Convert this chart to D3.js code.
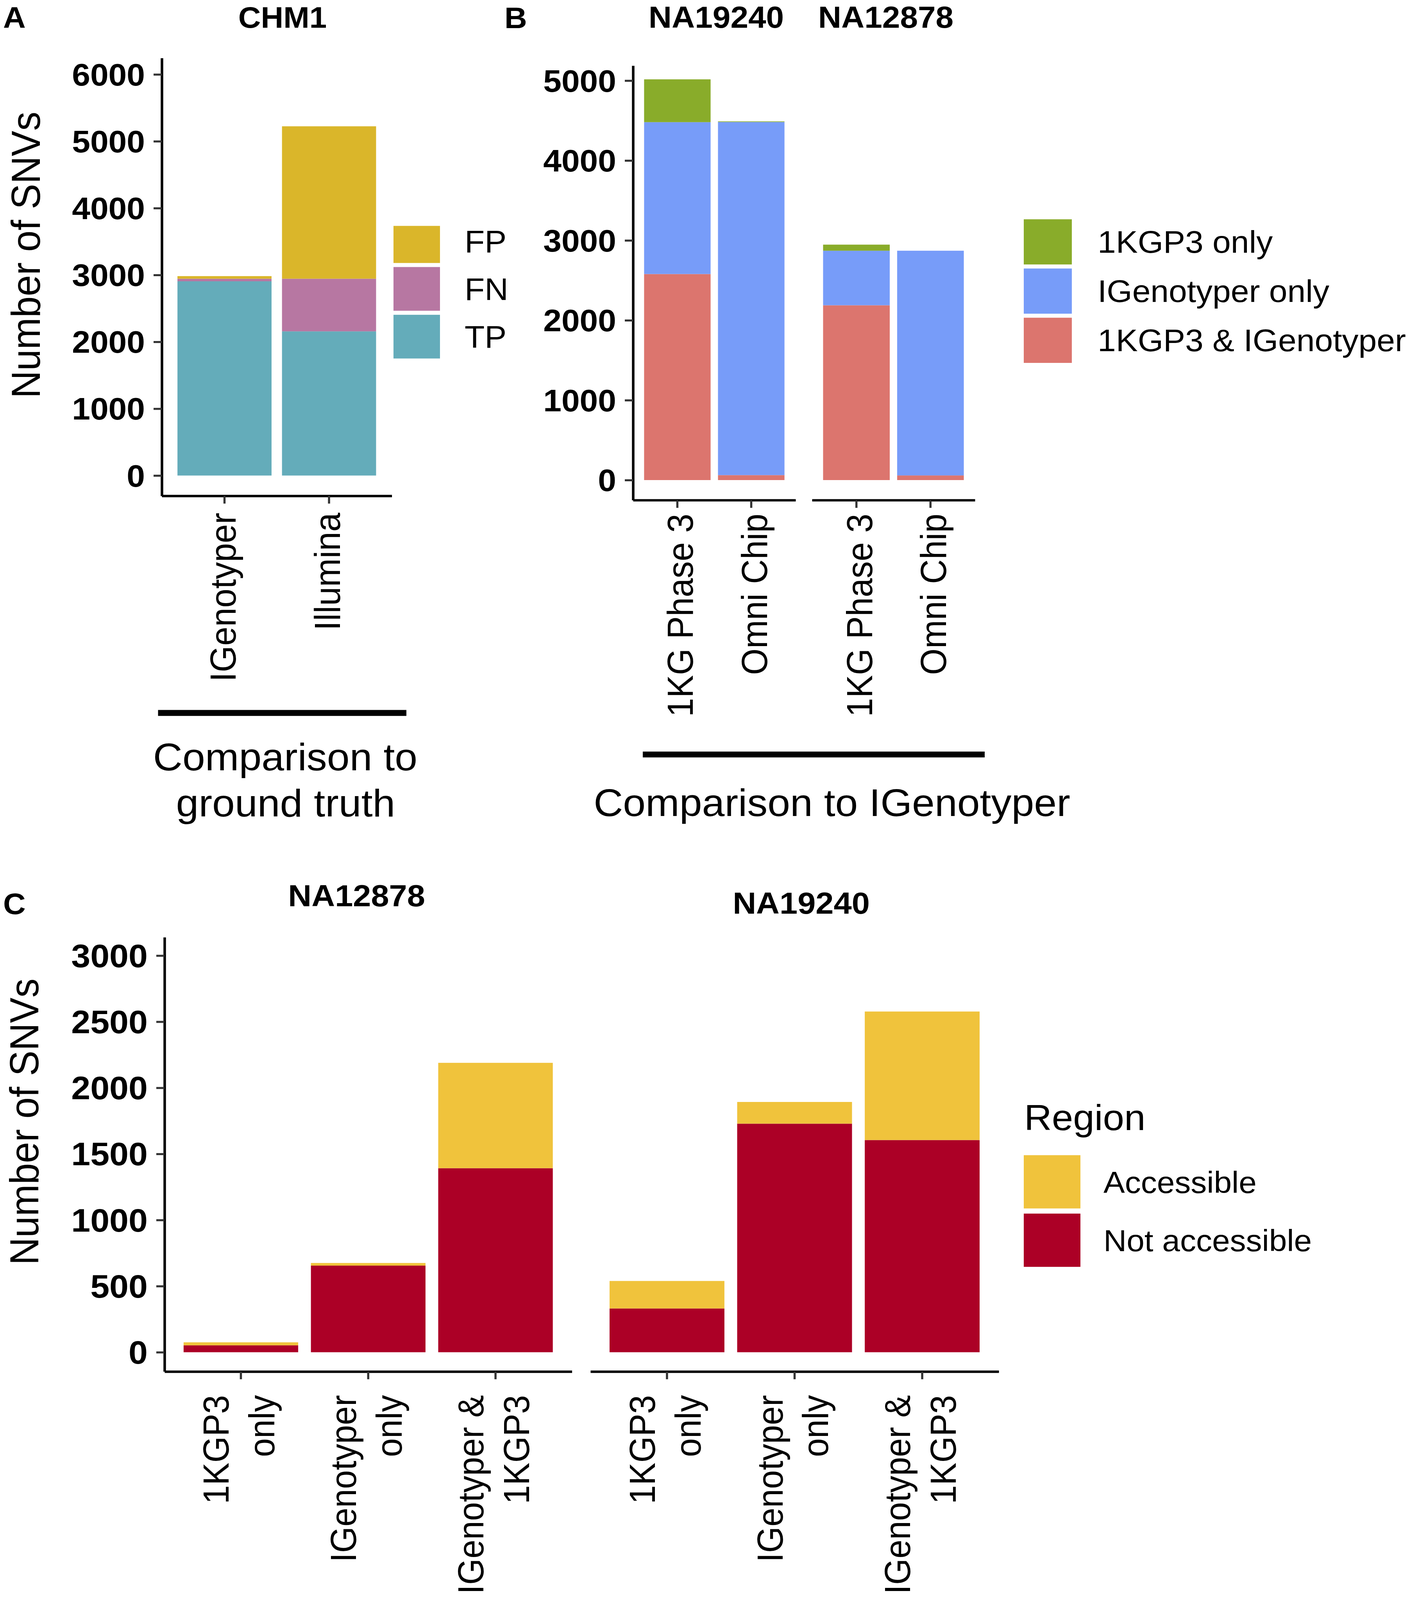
<!DOCTYPE html>
<html lang="en">
<head>
  <meta charset="UTF-8">
  <title>SNV comparison</title>
  <style>
    html, body { margin: 0; padding: 0; background: #fff; overflow: hidden; }
    svg { display: block; }
  </style>
</head>
<body>
<script src="https://d3js.org/d3.v7.min.js"></script>
<script>
  // ---- panel A: CHM1 vs ground truth ----
  const chm1Methods = ["IGenotyper", "Illumina"];
  const chm1Classes = ["TP", "FN", "FP"];          // bottom to top
  const chm1TP = [2906, 2157];
  const chm1FN = [38, 787];
  const chm1FP = [39, 2280];
  const chm1Ticks = [0, 1000, 2000, 3000, 4000, 5000, 6000];

  // ---- panel B: comparison to IGenotyper ----
  const cmpSamples = ["NA19240", "NA12878"];
  const cmpSources = ["1KG Phase 3", "Omni Chip"];
  const cmpClasses = ["1KGP3 & IGenotyper", "IGenotyper only", "1KGP3 only"]; // bottom to top
  const cmpShared = [[2579, 62], [2188, 58]];
  const cmpIgOnly = [[1901, 4420], [683, 2813]];
  const cmpKgOnly = [[536, 8], [76, 0]];
  const cmpTicks = [0, 1000, 2000, 3000, 4000, 5000];

  // ---- panel C: accessible regions ----
  const regSamples = ["NA12878", "NA19240"];
  const regGroups = ["1KGP3\nonly", "IGenotyper\nonly", "IGenotyper &\n1KGP3"];
  const regClasses = ["Not accessible", "Accessible"];  // bottom to top
  const regNotAccessible = [[52, 655, 1392], [331, 1729, 1605]];
  const regAccessible = [[23, 20, 797], [208, 164, 972]];
  const regTicks = [0, 500, 1000, 1500, 2000, 2500, 3000];

  const chm1Color = d3.scaleOrdinal(chm1Classes, ["#64ACBA", "#B777A2", "#DAB62A"]);
  const cmpColor = d3.scaleOrdinal(cmpClasses, ["#DC756E", "#779CF9", "#89AC2A"]);
  const regColor = d3.scaleOrdinal(regClasses, ["#AC0026", "#F0C33C"]);

  const W = 3611, H = 4356;
  const FONT = '"Liberation Sans", Arial, Helvetica, sans-serif';

  // fit the whole figure into whatever viewport we actually get
  const vw = window.innerWidth > 500 ? window.innerWidth : W;
  const vh = window.innerHeight > 500 ? window.innerHeight : H;

  const svg = d3.select("body").append("svg")
    .attr("width", vw).attr("height", vh)
    .attr("viewBox", [0, 0, W, H])
    .attr("preserveAspectRatio", "none")
    .attr("font-family", FONT);

  function band(domain, range) {
    // ggplot-like discrete axis: bar width 0.9, 0.6 units of expansion
    return d3.scaleBand().domain(domain).range(range).paddingInner(0.1).paddingOuter(0.15);
  }

  function leftAxis(x0, y, ticks, size) {
    const a = svg.append("g").attr("transform", `translate(${x0},0)`)
      .call(d3.axisLeft(y).tickValues(ticks).tickSize(21).tickSizeOuter(0).tickPadding(22).tickFormat(d3.format("d")));
    a.attr("font-family", FONT);
    a.select(".domain").attr("stroke", "#000").attr("stroke-width", 6.5);
    a.selectAll(".tick line").attr("stroke", "#333").attr("stroke-width", 5.5);
    a.selectAll(".tick text")
      .attr("fill", "#000").attr("font-size", size).attr("font-weight", "bold").attr("dy", "0.35em");
  }

  function bottomAxis(x, y0, gap, offsets, size) {
    const a = svg.append("g").attr("transform", `translate(0,${y0})`)
      .call(d3.axisBottom(x).tickSize(21).tickSizeOuter(0));
    a.attr("font-family", FONT);
    a.select(".domain").attr("stroke", "#000").attr("stroke-width", 6.5);
    a.selectAll(".tick line").attr("stroke", "#333").attr("stroke-width", 5.5);
    a.selectAll(".tick text").each(function (d) {
      const t = d3.select(this)
        .text(null)
        .attr("fill", "#000")
        .attr("font-size", size)
        .attr("transform", "rotate(-90)")
        .attr("text-anchor", "end")
        .attr("dy", null);
      d.split("\n").forEach((line, i) => {
        t.append("tspan").attr("x", -gap).attr("y", offsets[i]).text(line);
      });
    });
  }

  function bars(x, y, rows, keys, color) {
    const series = d3.stack().keys(keys)(rows);
    svg.append("g")
      .selectAll("g")
      .data(series)
      .join("g")
      .attr("fill", s => color(s.key))
      .selectAll("rect")
      .data(s => s)
      .join("rect")
      .attr("x", d => x(d.data.cat))
      .attr("width", x.bandwidth())
      .attr("y", d => y(d[1]))
      .attr("height", d => y(d[0]) - y(d[1]));
  }

  function legend(keys, color, o) {
    const g = svg.append("g");
    keys.forEach((k, i) => {
      const top = o.top + i * o.step;
      const trim = i === 0 ? (o.trim || 0) : 0;
      g.append("rect")
        .attr("x", o.x).attr("y", top + trim)
        .attr("width", o.size).attr("height", o.size - trim)
        .attr("fill", color(k));
      g.append("text")
        .attr("x", o.textX).attr("y", top + o.size / 2 + 30)
        .attr("font-size", o.font)
        .text(k);
    });
  }

  function label(txt, x, y, size, opts = {}) {
    return svg.append("text")
      .attr("x", x).attr("y", y)
      .attr("font-size", size)
      .attr("font-weight", opts.bold ? "bold" : null)
      .attr("text-anchor", opts.anchor || "start")
      .text(txt);
  }

  function yTitle(txt, x, yc) {
    svg.append("text")
      .attr("transform", `translate(${x},${yc}) rotate(-90)`)
      .attr("text-anchor", "middle")
      .attr("font-size", 104)
      .text(txt);
  }

  function bracket(x1, x2, y) {
    svg.append("line")
      .attr("x1", x1).attr("x2", x2).attr("y1", y).attr("y2", y)
      .attr("stroke", "#000").attr("stroke-width", 16);
  }

  // ================= Panel A =================
  const yA = d3.scaleLinear().domain([-304, 6245]).range([1350, 158]);
  const xA = band(chm1Methods, [414, 1002.6]);
  const rowsA = chm1Methods.map((m, i) => ({ cat: m, TP: chm1TP[i], FN: chm1FN[i], FP: chm1FP[i] }));
  bars(xA, yA, rowsA, chm1Classes, chm1Color);
  leftAxis(414, yA, chm1Ticks, 84);
  bottomAxis(xA, 1350, 46, [28], 93);
  label("A", 8, 76, 80, { bold: true });
  label("CHM1", 723, 76, 80, { bold: true, anchor: "middle" });
  yTitle("Number of SNVs", 102, 694);
  legend(chm1Classes.slice().reverse(), chm1Color,
    { x: 1007, top: 597, step: 130, size: 119, trim: 18, textX: 1189, font: 84 });
  bracket(404.5, 1040, 1941);
  label("Comparison to", 730, 2097, 104, { anchor: "middle" });
  label("ground truth", 731, 2223, 104, { anchor: "middle" });

  // ================= Panel B =================
  const yB = d3.scaleLinear().domain([-251, 5188]).range([1361.6, 178.6]);
  const facetsB = [[1620, 2036], [2078, 2495]];
  const titleXB = [1833, 2267];
  cmpSamples.forEach((s, j) => {
    const x = band(cmpSources, facetsB[j]);
    const rows = cmpSources.map((src, i) => ({
      cat: src,
      "1KGP3 & IGenotyper": cmpShared[j][i],
      "IGenotyper only": cmpIgOnly[j][i],
      "1KGP3 only": cmpKgOnly[j][i]
    }));
    bars(x, yB, rows, cmpClasses, cmpColor);
    bottomAxis(x, 1361.6, 37, [40], 93);
    label(s, titleXB[j], 76, 82, { bold: true, anchor: "middle" });
  });
  leftAxis(1620, yB, cmpTicks, 84);
  label("B", 1291, 77, 80, { bold: true });
  legend(cmpClasses.slice().reverse(), cmpColor,
    { x: 2620, top: 597, step: 134, size: 123, textX: 2809, font: 84 });
  bracket(1645, 2520, 2054);
  label("Comparison to IGenotyper", 2129, 2222, 104, { anchor: "middle" });

  // ================= Panel C =================
  const yC = d3.scaleLinear().domain([-146, 3139]).range([3734, 2551.6]);
  const facetsC = [[421, 1463.6], [1511, 2556]];
  const titleC = [[912.6, 2467], [2050.5, 2487]];
  regSamples.forEach((s, j) => {
    const x = band(regGroups, facetsC[j]);
    const rows = regGroups.map((grp, i) => ({
      cat: grp,
      "Not accessible": regNotAccessible[j][i],
      "Accessible": regAccessible[j][i]
    }));
    bars(x, yC, rows, regClasses, regColor);
    bottomAxis(x, 3734, 64, [-31, 86], 92);
    label(s, titleC[j][0], titleC[j][1], 83, { bold: true, anchor: "middle" });
  });
  leftAxis(421, yC, regTicks, 88);
  label("C", 8, 2489, 80, { bold: true });
  yTitle("Number of SNVs", 98, 3054);
  label("Region", 2621, 3077, 98);
  legend(regClasses.slice().reverse(), regColor,
    { x: 2620, top: 3145, step: 159, size: 145, textX: 2824, font: 82 });
</script>
</body>
</html>
